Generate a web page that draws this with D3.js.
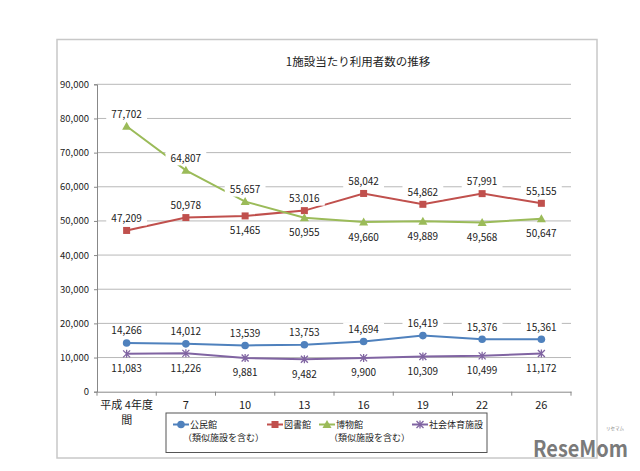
<!DOCTYPE html>
<html><head><meta charset="utf-8">
<script src="https://cdn.jsdelivr.net/npm/d3@7"></script>
<style>body{margin:0;background:#fff}svg{display:block}text{font-family:"Noto Sans CJK JP","Noto Sans",sans-serif}</style>
</head><body>
<svg id="c" width="640" height="471"></svg>
<script>
const title = "1施設当たり利用者数の推移";
const categories = ["平成 4年度\n間","7","10","13","16","19","22","26"];
const yTicks = [0,10000,20000,30000,40000,50000,60000,70000,80000,90000];
const seriesNames = ["公民館\n（類似施設を含む）","図書館","博物館\n（類似施設を含む）","社会体育施設"];
const kominkan = [14266,14012,13539,13753,14694,16419,15376,15361];
const toshokan = [47209,50978,51465,53016,58042,54862,57991,55155];
const hakubutsukan = [77702,64807,55657,50955,49660,49889,49568,50647];
const shakai = [11083,11226,9881,9482,9900,10309,10499,11172];
// label placement: 1 = above, -1 = below
const posKominkan = [1,1,1,1,1,1,1,1];
const posToshokan = [1,1,-1,1,1,1,1,1];
const posHaku = [1,1,1,-1,-1,-1,-1,-1];
const posShakai = [-1,-1,-1,-1,-1,-1,-1,-1];

const colors = ["#4F81BD","#C0504D","#9BBB59","#8064A2"];
const markers = ["circle","square","triangle","x"];
const series = [
  {name:seriesNames[0], values:kominkan, pos:posKominkan},
  {name:seriesNames[1], values:toshokan, pos:posToshokan},
  {name:seriesNames[2], values:hakubutsukan, pos:posHaku},
  {name:seriesNames[3], values:shakai, pos:posShakai}
];

const svg = d3.select("#c");
// outer frame
svg.append("rect").attr("x",57).attr("y",39.5).attr("width",540).attr("height",418.5)
  .attr("fill","#fff").attr("stroke","#c8c8c8").attr("stroke-width",1.5);

svg.append("text").attr("x",358).attr("y",66).attr("text-anchor","middle")
  .attr("font-size",11.5).attr("fill","#222").text(title);

const L=97, R=571, T=84.3, B=391.7;
const x = d3.scaleBand().domain(categories).range([L,R]);
const y = d3.scaleLinear().domain([0,90000]).range([B,T]);

// gridlines
svg.append("g").selectAll("line").data(yTicks.filter(d=>d>0)).join("line")
  .attr("x1",L).attr("x2",R).attr("y1",d=>y(d)).attr("y2",d=>y(d))
  .attr("stroke","#b8b8b8").attr("stroke-width",1);

// y axis
const fmt = d3.format(",");
const yAxis = svg.append("g").attr("transform",`translate(${L},0)`)
  .call(d3.axisLeft(y).tickValues(yTicks).tickFormat(d=>fmt(d)).tickSize(3).tickPadding(5));
yAxis.select(".domain").attr("stroke","#888");
yAxis.selectAll(".tick line").attr("stroke","#888");
yAxis.selectAll("text").attr("font-size",9.5).attr("fill","#222")
  .attr("font-family","'Noto Sans CJK JP',sans-serif");

// x axis
const xAxis = svg.append("g").attr("transform",`translate(0,${B})`)
  .call(d3.axisBottom(x).tickSize(0).tickFormat(""));
xAxis.select(".domain").attr("stroke","#888");
const bounds = d3.range(categories.length+1).map(i=>L+i*x.step());
svg.append("g").selectAll("line").data(bounds).join("line")
  .attr("x1",d=>d).attr("x2",d=>d).attr("y1",B).attr("y2",B+4).attr("stroke","#888");
svg.append("g").selectAll("text").data(categories).join("text")
  .attr("x",d=>x(d)+x.bandwidth()/2).attr("y",409).attr("text-anchor","middle")
  .attr("font-size",11).attr("fill","#222")
  .each(function(d){
    const lines=d.split("\n");
    d3.select(this).selectAll("tspan").data(lines).join("tspan")
      .attr("x",x(d)+x.bandwidth()/2).attr("dy",(l,i)=>i?15:0).text(l=>l);
  });

const cx = i=>x(categories[i])+x.bandwidth()/2;
const line = d3.line().x((d,i)=>cx(i)).y(d=>y(d));

function drawMarker(g, type, color, px, py){
  if(type==="circle") g.append("circle").attr("cx",px).attr("cy",py).attr("r",3.8).attr("fill",color);
  else if(type==="square") g.append("rect").attr("x",px-3.5).attr("y",py-3.5).attr("width",7).attr("height",7).attr("fill",color);
  else if(type==="triangle") g.append("path").attr("d",`M${px},${py-4.5}L${px+4.5},${py+3.5}L${px-4.5},${py+3.5}Z`).attr("fill",color);
  else {
    g.append("path").attr("d",`M${px-3.5},${py-3.5}L${px+3.5},${py+3.5}M${px-3.5},${py+3.5}L${px+3.5},${py-3.5}M${px},${py-4}L${px},${py+4}`)
      .attr("stroke",color).attr("stroke-width",1.3).attr("fill","none");
  }
}

const labelG = svg.append("g");
series.forEach((s,si)=>{
  const g = svg.append("g");
  g.append("path").datum(s.values).attr("d",line).attr("fill","none")
    .attr("stroke",colors[si]).attr("stroke-width",2);
  s.values.forEach((v,i)=>drawMarker(g,markers[si],colors[si],cx(i),y(v)));
});
series.forEach((s,si)=>{
  s.values.forEach((v,i)=>{
    const ly = s.pos[i]>0 ? y(v)-12 : y(v)+15;
    const t = fmt(v);
    const w = t.length*5.8+6;
    labelG.append("rect").attr("x",cx(i)-w/2).attr("y",ly-7).attr("width",w).attr("height",14).attr("fill","#fff");
    labelG.append("text").attr("x",cx(i)).attr("y",ly+3.5).attr("text-anchor","middle")
      .attr("font-size",10).attr("fill","#222").text(t);
  });
});
labelG.raise();

// legend
svg.append("rect").attr("x",166).attr("y",413).attr("width",321).attr("height",39.5)
  .attr("fill","#fff").attr("stroke","#555").attr("stroke-width",1);
const legX = [173,267,319,412];
series.forEach((s,si)=>{
  const g = svg.append("g");
  const ly = 424.5;
  g.append("line").attr("x1",legX[si]).attr("x2",legX[si]+16).attr("y1",ly).attr("y2",ly)
    .attr("stroke",colors[si]).attr("stroke-width",2);
  drawMarker(g,markers[si],colors[si],legX[si]+8,ly);
  const lines = s.name.split("\n");
  lines.forEach((l,li)=>{
    g.append("text").attr("x",li===0?legX[si]+17:legX[si]+10).attr("y",ly+3.5+li*13.2)
      .attr("font-size",9).attr("fill","#222").text(l);
  });
});

// watermark
svg.append("text").attr("x",533).attr("y",457).attr("font-size",22).attr("font-weight","bold")
  .attr("fill","#7a7a7a").attr("font-family","'Liberation Sans',Arial,sans-serif")
  .attr("textLength",95).attr("lengthAdjust","spacingAndGlyphs").text("ReseMom");
svg.append("text").attr("x",615).attr("y",430).attr("font-size",4.5).attr("fill","#888")
  .attr("text-anchor","middle").text("リセマム");
</script>
</body></html>
